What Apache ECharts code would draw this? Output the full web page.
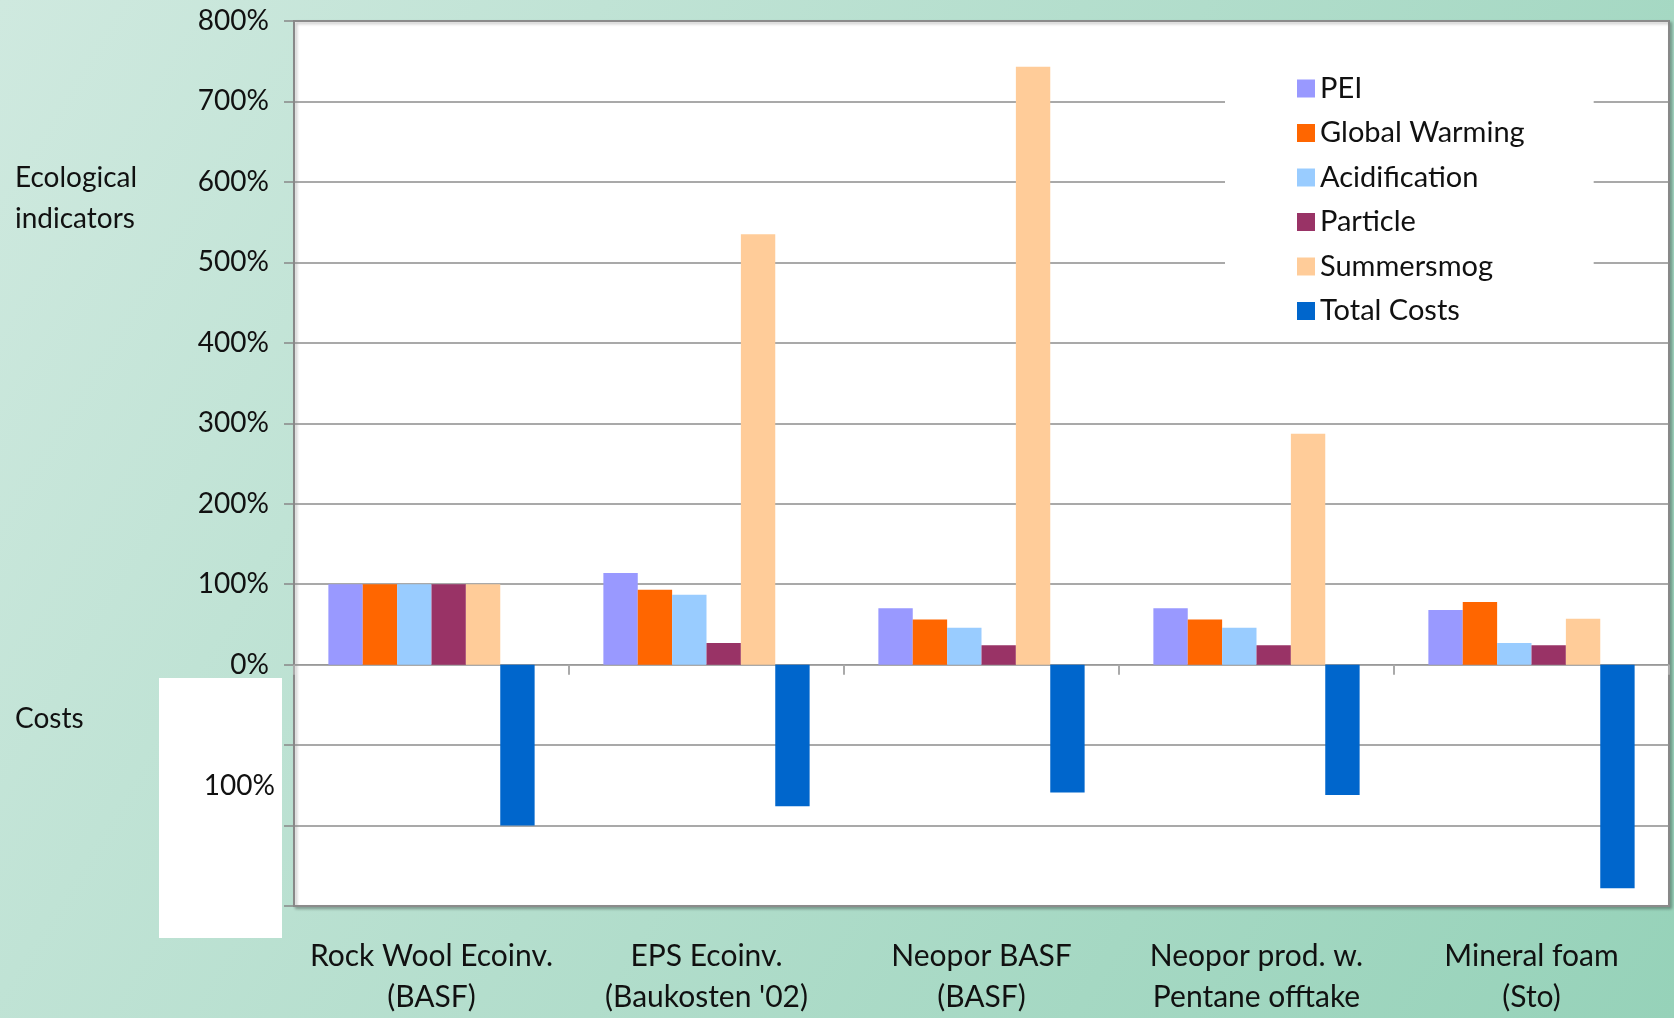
<!DOCTYPE html>
<html>
<head>
<meta charset="utf-8">
<script src="https://cdn.jsdelivr.net/npm/echarts@6/dist/echarts.min.js"></script>
<style>
  html, body { margin: 0; padding: 0; }
  #chart { width: 1674px; height: 1018px; }
</style>
</head>
<body>
<div id="chart"></div>
<script>
// categories on the x axis
const categories = [
  'Rock Wool Ecoinv.\n(BASF)',
  "EPS Ecoinv.\n(Baukosten '02)",
  'Neopor BASF\n(BASF)',
  'Neopor prod. w.\nPentane offtake',
  'Mineral foam\n(Sto)'
]

// values in percent
const pei = [100, 114, 70, 70, 68]
const globalWarming = [100, 93, 56, 56, 78]
const acidification = [100, 87, 46, 46, 27]
const particle = [100, 27, 24, 24, 24]
const summersmog = [100, 535, 743, 287, 57]
const totalCosts = [-200, -176, -159, -162, -278]

const seriesNames = ['PEI', 'Global Warming', 'Acidification', 'Particle', 'Summersmog', 'Total Costs']
const seriesColors = ['#9999ff', '#ff6600', '#99ccff', '#993366', '#ffcc99', '#0066cc']
const seriesData = [pei, globalWarming, acidification, particle, summersmog, totalCosts]

const FONT = 'Lato'
const chart = echarts.init(document.getElementById('chart'))

const option = {
  animation: false,
  backgroundColor: {
    type: 'linear', x: 0, y: 0, x2: 1, y2: 1,
    colorStops: [
      { offset: 0, color: '#cfe9df' },
      { offset: 1, color: '#96d2b9' }
    ]
  },
  textStyle: { fontFamily: FONT },
  grid: {
    left: 294, top: 21, right: 5, bottom: 110,
    show: true,
    backgroundColor: '#ffffff',
    borderColor: '#888888',
    borderWidth: 2,
    shadowColor: 'rgba(0,0,0,0.25)',
    shadowBlur: 3,
    shadowOffsetX: 2,
    shadowOffsetY: 2
  },
  legend: {
    orient: 'vertical',
    left: 1225,
    top: 55,
    padding: [19, 69, 8, 72],
    backgroundColor: '#ffffff',
    icon: 'rect',
    itemWidth: 18,
    itemHeight: 18,
    itemGap: 15.5,
    data: seriesNames,
    textStyle: { fontFamily: FONT, fontSize: 29, color: '#111', lineHeight: 28 }
  },
  xAxis: [
    {
      type: 'category',
      data: categories,
      position: 'bottom',
      axisLine: { show: false, onZero: false },
      axisTick: { show: false },
      axisLabel: {
        fontFamily: FONT, fontSize: 30, color: '#111',
        lineHeight: 41, margin: 30, interval: 0
      }
    },
    {
      type: 'category',
      data: categories,
      position: 'bottom',
      axisLine: { show: true, onZero: true, lineStyle: { color: '#999', width: 1 } },
      axisTick: { show: true, length: 10, lineStyle: { color: '#aaa', width: 2 } },
      axisLabel: { show: false }
    }
  ],
  yAxis: {
    type: 'value',
    min: -300,
    max: 800,
    interval: 100,
    axisLine: { show: true, lineStyle: { color: '#888', width: 2 } },
    axisTick: { show: true, length: 10, lineStyle: { color: '#888', width: 1.5 } },
    splitLine: { show: true, lineStyle: { color: '#8c8c8c', width: 1.5 } },
    axisLabel: {
      fontFamily: FONT, fontSize: 28, color: '#111', margin: 25,
      formatter: v => (v >= 0 ? v + '%' : '')
    }
  },
  graphic: [
    {
      type: 'rect', z: 100,
      shape: { x: 159, y: 678, width: 123, height: 260 },
      style: { fill: '#ffffff' }
    },
    {
      type: 'text', z: 101, x: 275, y: 786,
      style: { text: '100%', font: '28px ' + FONT, fill: '#111', align: 'right', verticalAlign: 'middle' }
    },
    {
      type: 'text', z: 101, x: 15, y: 198,
      style: { text: 'Ecological\nindicators', font: '28px ' + FONT, fill: '#111', lineHeight: 41, verticalAlign: 'middle' }
    },
    {
      type: 'text', z: 101, x: 15, y: 719,
      style: { text: 'Costs', font: '28px ' + FONT, fill: '#111', verticalAlign: 'middle' }
    }
  ],
  series: seriesNames.map((name, i) => ({
    name,
    type: 'bar',
    xAxisIndex: 0,
    data: seriesData[i],
    barGap: '0%',
    barCategoryGap: '25%',
    itemStyle: { color: seriesColors[i] }
  }))
}

chart.setOption(option)
</script>
</body>
</html>
